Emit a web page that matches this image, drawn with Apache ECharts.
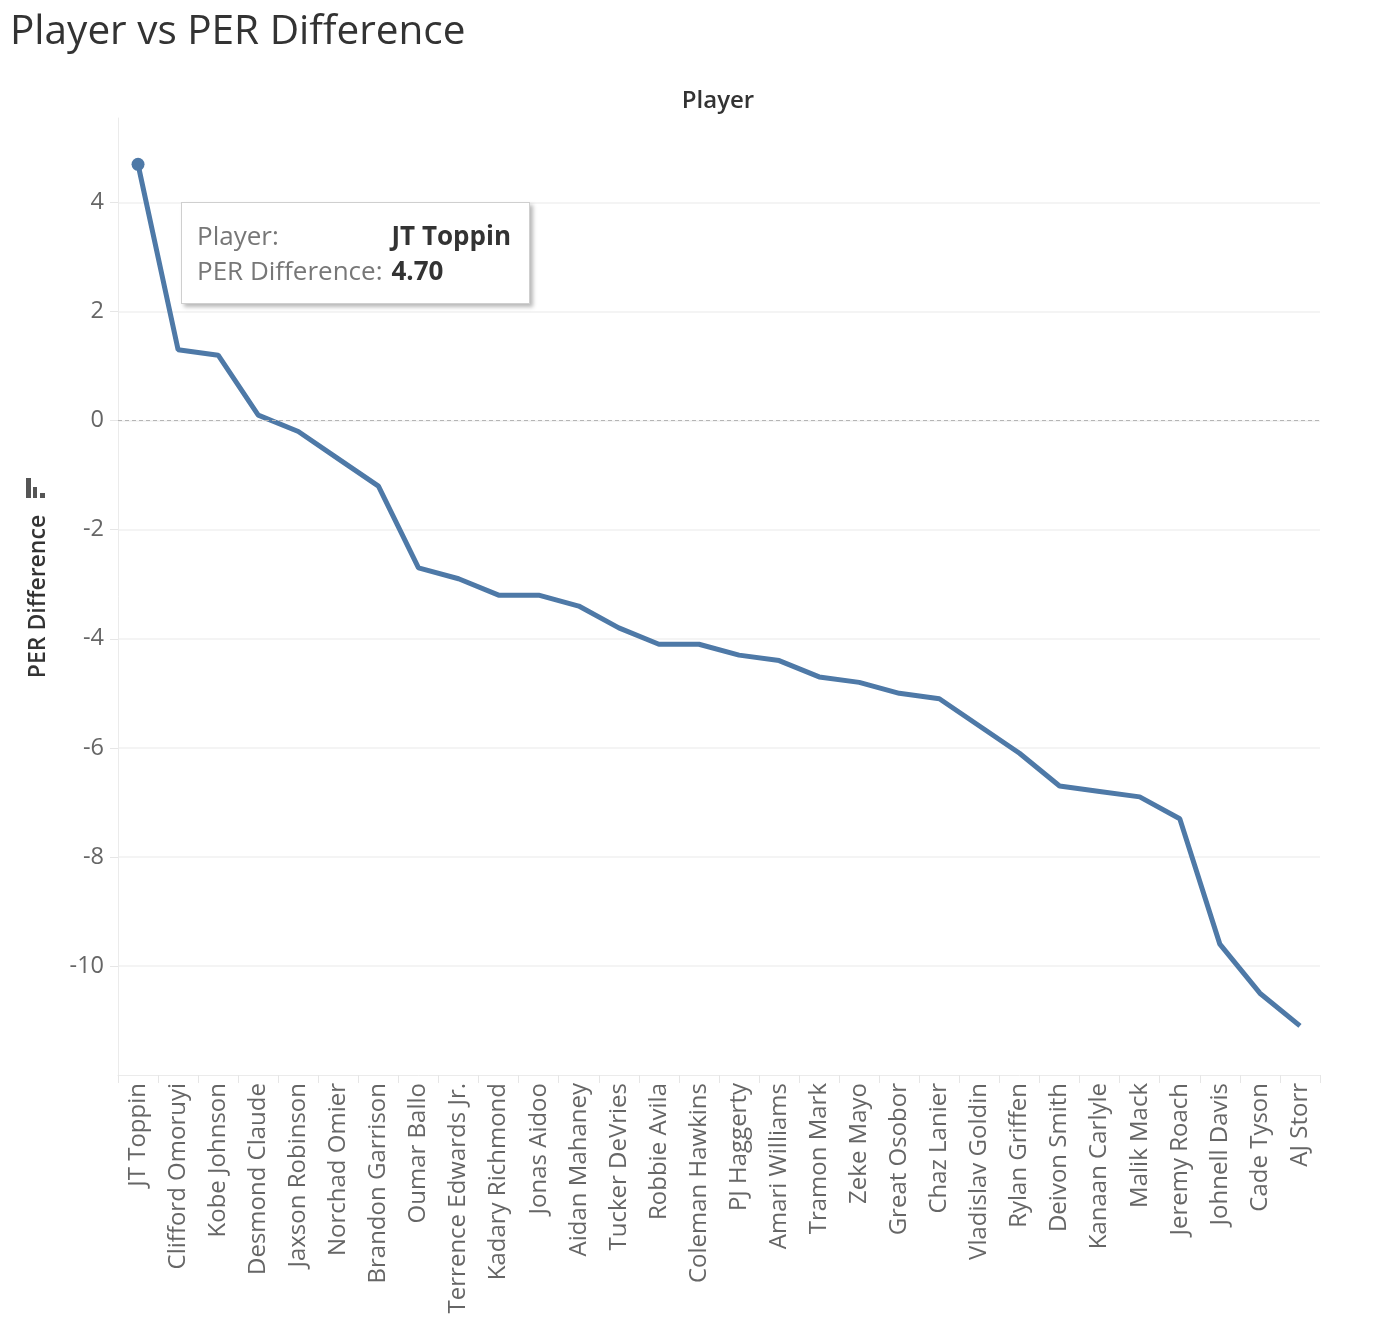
<!DOCTYPE html>
<html>
<head>
<meta charset="utf-8">
<title>Player vs PER Difference</title>
<script src="https://cdn.jsdelivr.net/npm/echarts@6/dist/echarts.min.js"></script>
<style>
  html, body { margin: 0; padding: 0; background: #fff; }
  #chart { width: 1378px; height: 1336px; }
</style>
</head>
<body>
<div id="chart"></div>
<script>
var players = ['JT Toppin', 'Clifford Omoruyi', 'Kobe Johnson', 'Desmond Claude', 'Jaxson Robinson',
  'Norchad Omier', 'Brandon Garrison', 'Oumar Ballo', 'Terrence Edwards Jr.', 'Kadary Richmond',
  'Jonas Aidoo', 'Aidan Mahaney', 'Tucker DeVries', 'Robbie Avila', 'Coleman Hawkins',
  'PJ Haggerty', 'Amari Williams', 'Tramon Mark', 'Zeke Mayo', 'Great Osobor',
  'Chaz Lanier', 'Vladislav Goldin', 'Rylan Griffen', 'Deivon Smith', 'Kanaan Carlyle',
  'Malik Mack', 'Jeremy Roach', 'Johnell Davis', 'Cade Tyson', 'AJ Storr'];
var perDiff = [4.7, 1.3, 1.2, 0.1, -0.2,
  -0.7, -1.2, -2.7, -2.9, -3.2,
  -3.2, -3.4, -3.8, -4.1, -4.1,
  -4.3, -4.4, -4.7, -4.8, -5.0,
  -5.1, -5.6, -6.1, -6.7, -6.8,
  -6.9, -7.3, -9.6, -10.5, -11.1];
var yTicks = [-12, 5.55, 2]; // min, max, interval

(function () {
  var myChart = echarts.init(document.getElementById('chart'));
  var font = '"Open Sans", "DejaVu Sans", sans-serif';

  var option = {
    animation: false,
    textStyle: { fontFamily: font },
    title: [
      {
        text: 'Player vs PER Difference',
        left: 5,
        top: 7,
        textStyle: { color: '#333', fontSize: 40.5, fontWeight: 'normal', fontFamily: font }
      },
      {
        text: 'Player',
        left: 713,
        top: 84,
        textAlign: 'center',
        textStyle: { color: '#333', fontSize: 24, fontWeight: 600, fontFamily: font }
      }
    ],
    grid: { left: 118, right: 58, top: 118, bottom: 261 },
    tooltip: {
      trigger: 'item',
      alwaysShowContent: true,
      showDelay: 0,
      transitionDuration: 0,
      position: [181, 202],
      backgroundColor: '#fff',
      borderColor: '#cfcfcf',
      borderWidth: 1,
      padding: [15, 18, 15, 15],
      extraCssText: 'border-radius:0;box-shadow:3px 3px 4px rgba(0,0,0,0.28);',
      formatter: function (p) {
        return '<table style="border-collapse:collapse;font-family:' + font.replace(/"/g, "'") +
          ';font-size:26px;line-height:35px;">' +
          '<tr><td style="color:#777;padding:0 9px 0 0;">Player:</td>' +
          '<td style="color:#333;font-weight:bold;padding:0;">' + p.name + '</td></tr>' +
          '<tr><td style="color:#777;padding:0 9px 0 0;">PER Difference:</td>' +
          '<td style="color:#333;font-weight:bold;padding:0;">' + p.value.toFixed(2) + '</td></tr>' +
          '</table>';
      }
    },
    xAxis: {
      type: 'category',
      data: players,
      boundaryGap: true,
      axisLine: { show: true, onZero: false, lineStyle: { color: '#ebebeb', width: 1 } },
      axisTick: { show: true, length: 8, alignWithLabel: false, lineStyle: { color: '#e6e6e6' } },
      axisLabel: {
        rotate: 90,
        interval: 0,
        margin: 8,
        color: '#666',
        fontSize: 24,
        fontFamily: font
      },
      splitLine: { show: false }
    },
    yAxis: {
      type: 'value',
      min: yTicks[0],
      max: yTicks[1],
      interval: yTicks[2],
      name: 'PER Difference',
      nameLocation: 'middle',
      nameGap: 68,
      nameTextStyle: { color: '#333', fontSize: 23, fontWeight: 600, fontFamily: font },
      axisLine: { show: true, lineStyle: { color: '#ebebeb', width: 1 } },
      axisTick: { show: true, length: 8, lineStyle: { color: '#e6e6e6' } },
      axisLabel: {
        showMinLabel: false,
        showMaxLabel: false,
        margin: 14,
        color: '#666',
        fontSize: 23.5,
        fontFamily: font
      },
      splitLine: {
        show: true,
        showMinLine: false,
        showMaxLine: false,
        lineStyle: { color: '#f0f0f0', width: 1.5 }
      }
    },
    graphic: [
      { type: 'rect', shape: { x: 26, y: 478, width: 5, height: 20 }, style: { fill: '#555' } },
      { type: 'rect', shape: { x: 33, y: 487, width: 4, height: 11 }, style: { fill: '#555' } },
      { type: 'rect', shape: { x: 40, y: 493, width: 5, height: 5 }, style: { fill: '#555' } }
    ],
    series: [
      {
        name: 'PER Difference',
        type: 'line',
        data: perDiff,
        symbol: 'circle',
        symbolSize: function (v, p) { return p.dataIndex === 0 ? 13 : 0; },
        showSymbol: true,
        emphasis: { disabled: true },
        lineStyle: { color: '#4e79a7', width: 5 },
        itemStyle: { color: '#4e79a7' },
        markLine: {
          silent: true,
          symbol: 'none',
          label: { show: false },
          lineStyle: { color: '#b5b5b5', type: [4, 3], width: 1 },
          data: [{ yAxis: 0 }]
        }
      }
    ]
  };

  myChart.setOption(option);
  myChart.dispatchAction({ type: 'showTip', seriesIndex: 0, dataIndex: 0 });
})();
</script>
</body>
</html>
